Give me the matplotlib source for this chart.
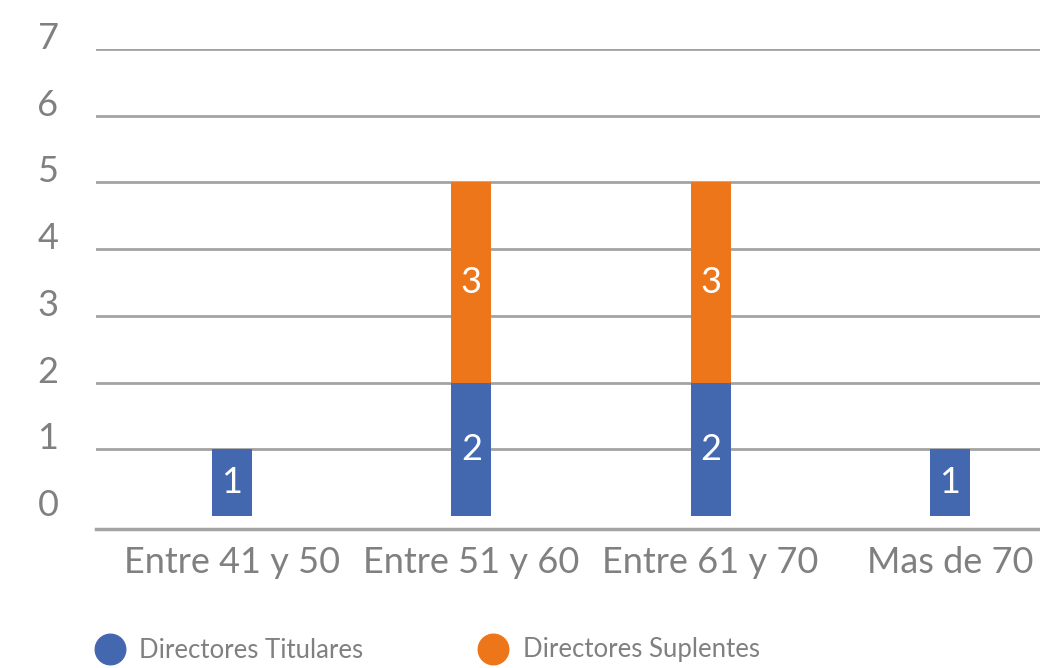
import matplotlib.pyplot as plt
from matplotlib.lines import Line2D

categorias = ["Entre 41 y 50", "Entre 51 y 60", "Entre 61 y 70", "Mas de 70"]
titulares = [1, 2, 2, 1]
suplentes = [0, 3, 3, 0]
series = ["Directores Titulares", "Directores Suplentes"]
yticks = [0, 1, 2, 3, 4, 5, 6, 7]

AZUL = "#4468B0"
NARANJA = "#EE761A"
GRIS_TXT = "#808080"
GRIS_LINEA = "#A3A3A3"

plt.rcParams["font.family"] = ["Lato", "DejaVu Sans"]

fig = plt.figure(figsize=(10.4, 6.68), dpi=100)
ax = fig.add_axes([96 / 1040, 1 - 529 / 668, (1040 - 96) / 1040, 480 / 668])

x = list(range(len(categorias)))
ancho = 0.167
b1 = ax.bar(x, titulares, width=ancho, color=AZUL, zorder=3)
b2 = ax.bar(x, suplentes, width=ancho, bottom=titulares, color=NARANJA, zorder=3)

ax.bar_label(b1, labels=[str(v) for v in titulares], label_type="center",
             color="white", fontsize=26)
ax.bar_label(b2, labels=[str(v) if v else "" for v in suplentes],
             label_type="center", color="white", fontsize=26)

# lineas de cuadricula (sin la del cero, la base es el eje)
for v in yticks[1:]:
    ax.axhline(v, color=GRIS_LINEA, lw=2, zorder=1)

ax.set_xlim(-0.568, 3.376)
ax.set_ylim(-0.195, 7)
ax.set_xticks(x)
ax.set_xticklabels(categorias, fontsize=26, color=GRIS_TXT)
ax.set_yticks(yticks)
ax.set_yticklabels([str(v) for v in yticks], fontsize=26, color=GRIS_TXT)
ax.tick_params(axis="both", length=0)
ax.tick_params(axis="y", pad=27)
ax.tick_params(axis="x", pad=12)
for lbl in ax.get_yticklabels():
    lbl.set_verticalalignment("baseline")

for lado in ["top", "right", "left"]:
    ax.spines[lado].set_visible(False)
ax.spines["bottom"].set_color(GRIS_LINEA)
ax.spines["bottom"].set_linewidth(2.5)

handles = [
    Line2D([], [], marker="o", ls="", markersize=22, color=AZUL),
    Line2D([], [], marker="o", ls="", markersize=22, color=NARANJA),
]
fig.legend(handles, series, loc="center left", bbox_to_anchor=(66 / 1040, 1 - 650 / 668),
           ncol=2, frameon=False, fontsize=18.5, labelcolor=GRIS_TXT,
           handletextpad=0.35, columnspacing=4.25, handlelength=1.6)

fig.savefig("out.png", dpi=100)
